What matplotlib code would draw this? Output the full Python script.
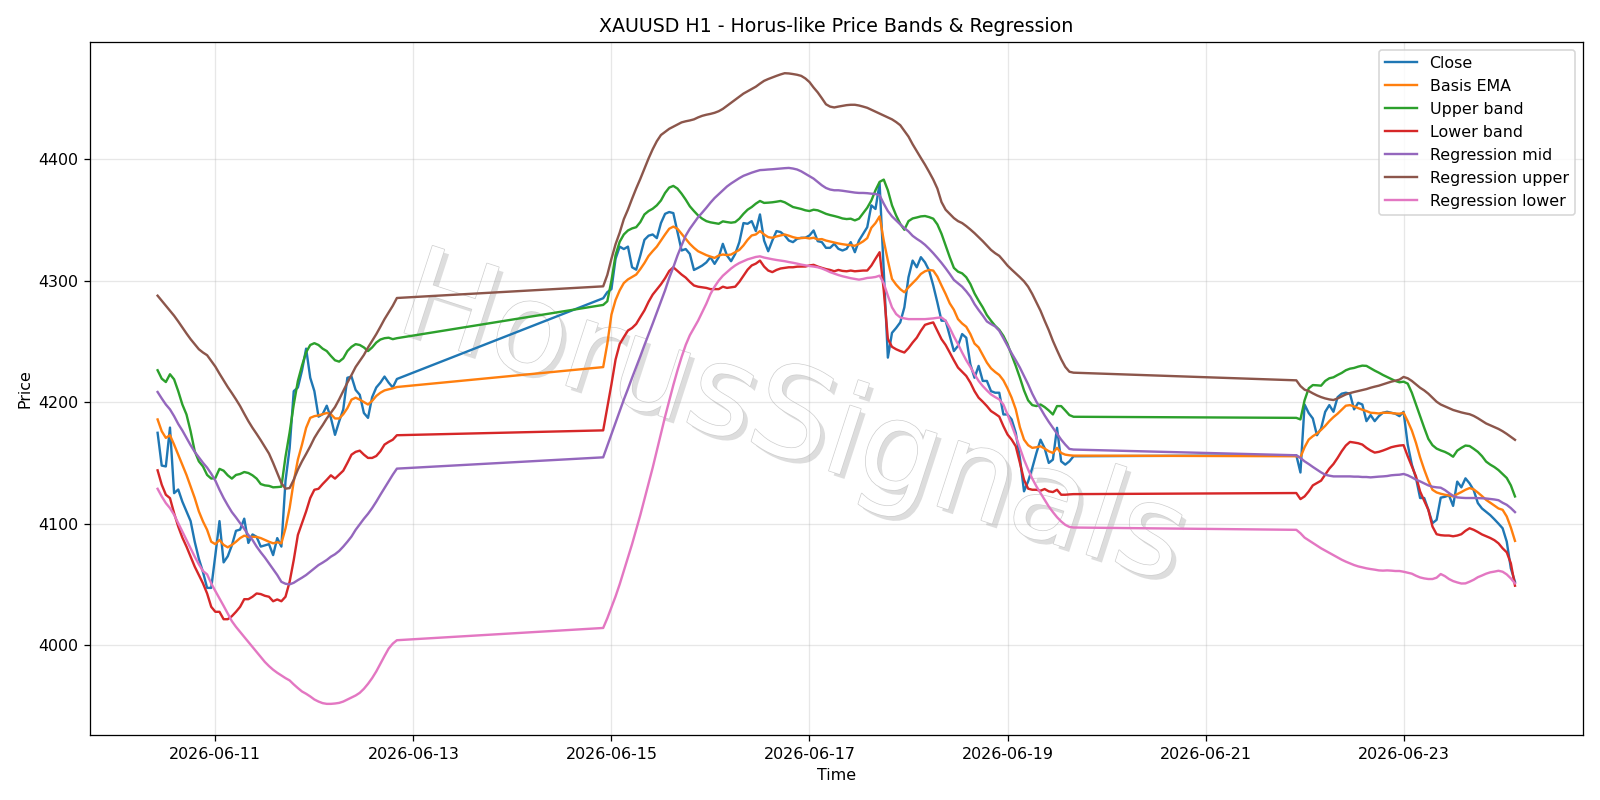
import numpy as np
import pandas as pd
import matplotlib
matplotlib.use("Agg")
import matplotlib.pyplot as plt
import matplotlib.patheffects as pe

# Sesiones horarias (huecos de fin de semana)
seg_starts = ["2026-06-10 10:00", "2026-06-14 22:00", "2026-06-21 22:00"]
seg_lengths = [59, 115, 54]

close = [
    # sesion 1
    4174.7, 4147.7, 4147, 4179, 4125, 4128, 4118, 4110, 4102, 4085, 4071, 4060, 4047, 4047, 4074, 4102,
    4068, 4073, 4082, 4094, 4095, 4104, 4084, 4091, 4089, 4081, 4082, 4083, 4074, 4088, 4081, 4135,
    4162, 4209, 4212, 4226, 4244, 4220, 4209, 4188, 4190, 4197, 4187, 4173, 4184, 4194, 4220, 4221,
    4210, 4206, 4191, 4187, 4204, 4212, 4216, 4221, 4216, 4212, 4219,
    # sesion 2
    4285.5, 4290.5, 4293, 4318, 4328, 4326, 4328, 4311, 4309, 4320.7, 4333.6, 4337, 4338, 4335, 4347.4,
    4355, 4356.5, 4355.6, 4340, 4324.8, 4326, 4322, 4308.8, 4310.5, 4312.4, 4315, 4319.3, 4313.8, 4319.3,
    4330.3, 4320.7, 4316, 4322, 4331.7, 4347.4, 4346.8, 4349, 4340.8, 4354.5, 4333, 4324.2, 4333, 4340.8,
    4340, 4337.2, 4333, 4331.7, 4334.4, 4335.3, 4335.3, 4337.2, 4341.3, 4332.5, 4331.7, 4327, 4327, 4330.3,
    4326.2, 4324.8, 4326.2, 4331.7, 4323.4, 4333, 4338.5, 4344, 4362, 4359, 4380, 4308, 4236.6, 4257,
    4261, 4265.6, 4278, 4302.8, 4316.5, 4311, 4319.3, 4315, 4308.3, 4296, 4282, 4267, 4267, 4254.5, 4242,
    4246.3, 4256, 4253, 4231, 4220, 4229.8, 4217.4, 4217.4, 4209, 4207.7, 4207.7, 4189.8, 4189.8, 4185.7,
    4174.7, 4154, 4126.5, 4134.7, 4145.7, 4158, 4169, 4162, 4149.9, 4152.6, 4178.8, 4151.2, 4148.5,
    4151.2, 4155.4,
    # sesion 3
    4156.2, 4142, 4198, 4191, 4186.5, 4172.7, 4178.2, 4192, 4197.5, 4192, 4204, 4206.9, 4207.7, 4206.9,
    4194, 4199.4, 4198, 4184.3, 4189.3, 4184.3, 4188.4, 4191.2, 4192, 4191.2, 4190.4, 4188.4, 4192, 4165,
    4148.5, 4137.5, 4121, 4121, 4111.3, 4100.3, 4103, 4121.3, 4122, 4123.2, 4114.5, 4134.5, 4129.8,
    4137.2, 4133, 4127.4, 4116.8, 4112.4, 4109.7, 4106.9, 4103.5, 4099.9, 4096.1, 4085.1, 4063, 4052,
]

basis_ema = [
    4185.7, 4176, 4170.5, 4172.7, 4165, 4156.7, 4148.5, 4140, 4130.6, 4121, 4110, 4101.7, 4094.8, 4085,
    4083, 4086.5, 4082.4, 4080.4, 4082.4, 4085, 4088, 4090, 4089, 4089, 4089, 4088, 4086.5, 4085, 4083.7,
    4084.6, 4083.7, 4096, 4112.7, 4134.7, 4152.6, 4165, 4178.8, 4187, 4188.4, 4189, 4190, 4191, 4190,
    4186.5, 4186.5, 4190, 4195, 4202, 4203.6, 4202, 4200, 4198, 4201, 4205, 4207.7, 4209.6, 4210.5,
    4211.3, 4212.4,
    4228.8, 4248, 4272, 4284, 4292, 4298, 4301, 4303, 4305, 4309.5, 4314.5, 4320.3, 4324.3, 4328, 4333,
    4338, 4342.7, 4344.5, 4342.7, 4338.6, 4334.4, 4330.3, 4327, 4324.2, 4322.6, 4321, 4319.8, 4318.7,
    4320.7, 4321.5, 4321, 4321.5, 4323.4, 4325.3, 4329, 4333.6, 4337.2, 4338, 4340.8, 4338, 4335.8,
    4335.3, 4336.4, 4337.2, 4338, 4337, 4335.8, 4335, 4335, 4335.3, 4334.7, 4335.3, 4333.9, 4334.2, 4333,
    4332.2, 4331.4, 4330.6, 4330, 4329.5, 4329.2, 4328.7, 4330.3, 4332.3, 4335, 4343.5, 4347.4, 4352.9,
    4333, 4316.5, 4301.4, 4296.7, 4293, 4290.4, 4294.5, 4298, 4301.4, 4305.5, 4307.7, 4308.8, 4308.3,
    4303.3, 4296, 4289, 4281.3, 4276, 4268.3, 4264.7, 4262, 4256, 4248.2, 4245, 4238.8, 4232.5, 4227.8,
    4224.8, 4222.3, 4217.9, 4211.3, 4203.6, 4194, 4179.3, 4169.1, 4164.5, 4162.3, 4162.8, 4163.6, 4161.7,
    4159.5, 4158.1, 4162.3, 4158.1, 4156.7, 4156.2, 4155.9,
    4155.4, 4154.5, 4162.8, 4169.1, 4171.9, 4174.1, 4177.1, 4180.4, 4184.3, 4187.6, 4190.4, 4193.7, 4197,
    4197.5, 4196.4, 4195, 4193.7, 4192.6, 4191.2, 4191, 4190.6, 4191.2, 4191.2, 4191, 4190.6, 4190.4,
    4191.2, 4184.3, 4176.6, 4166.4, 4154.5, 4144.4, 4135.3, 4127.8, 4125.6, 4124.5, 4123.7, 4123.1,
    4122.3, 4124.2, 4125.9, 4127.8, 4129.2, 4128.1, 4125.5, 4122.6, 4119.5, 4117.2, 4114.8, 4112.4,
    4111.3, 4105.8, 4096.7, 4085.7,
]

upper_band = [
    4226.2, 4219.3, 4216.5, 4222.9, 4218.7, 4209, 4198, 4189.8, 4176, 4159.5, 4151.2, 4147, 4140, 4137,
    4137.5, 4145, 4143.5, 4139.7, 4137, 4140, 4140.8, 4142.4, 4141.6, 4139.7, 4137, 4132.5, 4131.4, 4131,
    4129.8, 4130, 4130.3, 4155, 4175, 4198, 4217.4, 4230, 4241, 4247, 4248.5, 4247, 4244, 4242, 4238,
    4234.4, 4233.3, 4236, 4242, 4245.5, 4247.7, 4247, 4245, 4242, 4245, 4249, 4251.5, 4252.6, 4253,
    4251.8, 4252.6,
    4280, 4283, 4300, 4321, 4332, 4338, 4341.3, 4343, 4344, 4348.2, 4354.5, 4357.3, 4359.2, 4362, 4366,
    4372.2, 4376.6, 4378, 4375.8, 4371.6, 4366.7, 4361.2, 4357.3, 4353.7, 4351, 4349, 4348, 4347.4,
    4346.8, 4348.8, 4348.2, 4347.7, 4348.2, 4351, 4355, 4358.4, 4360.6, 4363.4, 4365.6, 4364, 4364.2,
    4364.5, 4365, 4365.6, 4364.5, 4362.5, 4360.6, 4359.8, 4359, 4357.9, 4357.3, 4358.4, 4357.9, 4356.5,
    4355, 4354, 4353.2, 4352.3, 4351.2, 4350.7, 4351, 4349.6, 4351, 4355.5, 4360, 4366, 4374.4, 4381.3,
    4383.2, 4374.4, 4362, 4353.7, 4346.8, 4341.9, 4349, 4351.2, 4352, 4352.9, 4353.2, 4352.3, 4351,
    4346.3, 4338.6, 4328.9, 4319.3, 4310.5, 4307.4, 4306, 4302.8, 4297.2, 4289.5, 4283.5, 4278, 4271.6,
    4267, 4262.8, 4259.5, 4254.5, 4247.7, 4238.8, 4229.8, 4220.1, 4209.6, 4201.4, 4197.5, 4196.7, 4198,
    4195.9, 4193.1, 4189.8, 4196.7, 4196.7, 4193.1, 4189.3, 4187.9,
    4187, 4185.7, 4201.4, 4211.3, 4214, 4213.8, 4213.5, 4217.4, 4219.6, 4220.4, 4222.3, 4224, 4226.2,
    4227.5, 4228.1, 4229.2, 4230, 4229.8, 4227.8, 4225.9, 4224.2, 4222.3, 4220.7, 4219, 4217.4, 4216.3,
    4216.8, 4215.2, 4207.7, 4198, 4188.4, 4178.8, 4169.7, 4164.5, 4161.7, 4160.2, 4159, 4157.3, 4155,
    4160, 4162.3, 4164.2, 4163.8, 4161.5, 4159, 4155.5, 4151, 4148.5, 4146.5, 4144, 4140.8, 4137.5,
    4131.4, 4122.3,
]

lower_band = [
    4143.8, 4132, 4123.7, 4120.9, 4108.5, 4097.5, 4088.4, 4081, 4072.7, 4064.5, 4057.6, 4050.7, 4042.4,
    4031.4, 4027.3, 4027.3, 4021.2, 4021.2, 4023.7, 4027.3, 4031.4, 4037.7, 4037.7, 4039.7, 4042.4,
    4041.9, 4040.5, 4039.7, 4036, 4037.5, 4036, 4039.7, 4052, 4070, 4090.6, 4100.3, 4110, 4121, 4127.8,
    4128.6, 4132.5, 4136, 4139.7, 4137, 4140.2, 4143.5, 4149.9, 4156.7, 4159, 4160, 4156.7, 4154, 4154,
    4155.6, 4159.5, 4165, 4167.2, 4169, 4172.7,
    4176.7, 4195.6, 4214.6, 4235, 4247.8, 4253.5, 4258.9, 4261, 4264.3, 4270, 4275.5, 4282.6, 4288.5,
    4292.7, 4297, 4302, 4307.9, 4311, 4308, 4305, 4302.5, 4299, 4296, 4295, 4294.5, 4294, 4293, 4293,
    4293, 4295, 4294, 4294.5, 4295, 4299, 4304, 4309, 4312.5, 4314, 4316.5, 4311.6, 4308.3, 4307,
    4308.8, 4310, 4310.5, 4311, 4311, 4311.5, 4311.6, 4311.6, 4312.5, 4313, 4311.6, 4310.5, 4309.5,
    4308.8, 4307.7, 4308.8, 4308, 4307.7, 4308.3, 4307.7, 4308, 4308.3, 4308.3, 4312.4, 4318, 4323.4,
    4292, 4252, 4245.5, 4243.5, 4242, 4240.8, 4244.4, 4249, 4253, 4258.7, 4263.6, 4264.7, 4265.6,
    4258.7, 4251.8, 4247, 4240.8, 4234.4, 4228.4, 4225, 4221.5, 4216, 4209, 4203.6, 4200.3, 4196.7,
    4192.6, 4190.4, 4188, 4180.2, 4173.3, 4169.1, 4163.6, 4150, 4136, 4128.7, 4127.8, 4127.8, 4127,
    4128.4, 4126.5, 4125.9, 4127.8, 4123.7, 4123.7, 4124, 4124.2,
    4125.1, 4120.1, 4122.3, 4126.4, 4131.4, 4133.3, 4135.3, 4140.2, 4145.2, 4149, 4154, 4159.5, 4164.2,
    4167.2, 4166.7, 4166.1, 4165, 4162.3, 4160.1, 4158.4, 4159, 4160.1, 4161.4, 4162.8, 4163.6, 4164.2,
    4164.5, 4155.4, 4147.1, 4138.8, 4126.4, 4118.7, 4111.3, 4097.5, 4091.2, 4090.4, 4090.1, 4090.1,
    4089.5, 4090.1, 4091.2, 4094, 4096.1, 4094.8, 4093, 4091, 4089.5, 4088.1, 4086.3, 4083.7, 4079.6,
    4076.3, 4067.2, 4048.8,
]

reg_mid = [
    4208.3, 4203, 4198, 4194, 4188.4, 4182, 4176.6, 4170.5, 4164.5, 4159, 4154.5, 4150, 4146, 4141,
    4135.3, 4127.8, 4121, 4115, 4109.4, 4105, 4100.3, 4095.6, 4090.6, 4086.5, 4081, 4076.3, 4072,
    4067.2, 4062.5, 4057.6, 4052, 4050.4, 4049.9, 4051.2, 4053.4, 4055.4, 4057.6, 4060.3, 4063, 4065.8,
    4067.8, 4070, 4072.7, 4074.7, 4077.4, 4081, 4085, 4089.3, 4094.8, 4099.4, 4103.9, 4108, 4112.7,
    4118, 4123.7, 4129.2, 4134.7, 4140.2, 4145.2,
    4154.5, 4164, 4173.5, 4183, 4192.5, 4202, 4210.8, 4220, 4228.8, 4237.7, 4246.9, 4255.7, 4264.6,
    4273.8, 4283.2, 4292, 4302.2, 4311, 4320.6, 4329, 4337, 4342.7, 4347.4, 4352.2, 4356, 4360, 4364.2,
    4368, 4371.2, 4374.3, 4377.5, 4380, 4382.2, 4384.4, 4386.3, 4387.6, 4388.9, 4390, 4391, 4391.2,
    4391.5, 4391.7, 4392, 4392.3, 4392.6, 4392.8, 4392.3, 4391.5, 4390, 4388, 4386, 4384, 4381.3,
    4378.5, 4376.3, 4375, 4374.4, 4374.4, 4374, 4373.5, 4373, 4372.5, 4372.2, 4372.2, 4372, 4371.6,
    4371.4, 4370.2, 4363.4, 4357.3, 4352.9, 4349.6, 4346.3, 4343.3, 4340.5, 4336.9, 4334.4, 4332.2,
    4329.5, 4326.2, 4322.6, 4318.7, 4314.6, 4310.2, 4305.5, 4300.6, 4297.8, 4295, 4291.2, 4286.8,
    4280.7, 4275.8, 4271.3, 4266.4, 4264.2, 4262.3, 4258.7, 4252.6, 4246.3, 4240.2, 4234.4, 4228.4,
    4221.5, 4214.6, 4206.9, 4200.3, 4194.8, 4189, 4183.7, 4178.8, 4173.8, 4169.1, 4165, 4161.4, 4160.9,
    4156.2, 4154, 4151.2, 4149, 4146.6, 4144.4, 4142.1, 4140.2, 4139.4, 4138.8, 4138.8, 4138.8, 4138.8,
    4138.8, 4138.6, 4138.6, 4138.3, 4138.3, 4138, 4138.3, 4138.6, 4138.8, 4139.1, 4139.7, 4140, 4140.2,
    4140.8, 4139.7, 4138, 4136.1, 4134.7, 4133.1, 4131.4, 4130.3, 4129.8, 4129.5, 4127.6, 4125.1,
    4122.8, 4121.5, 4121.2, 4121, 4121, 4121, 4120.9, 4120.8, 4120.6, 4120.2, 4119.8, 4119.2, 4117.1,
    4115.4, 4112.7, 4109.4,
]

reg_upper = [
    4287.6, 4283.5, 4279.3, 4275.2, 4271.1, 4266.4, 4261.4, 4256.5, 4251.8, 4247.7, 4243.5, 4240.8,
    4238.6, 4233.9, 4229.2, 4223.4, 4217.9, 4212.4, 4207.4, 4202.2, 4196.7, 4190.4, 4184.3, 4178.8,
    4173.8, 4168.6, 4163.1, 4157.6, 4149.9, 4141.6, 4133.3, 4128.7, 4129.2, 4136.1, 4144.4, 4151.2,
    4157.3, 4163.6, 4170.5, 4176, 4181, 4186.5, 4191.2, 4195.9, 4202.2, 4209.1, 4216, 4222.3, 4228.9,
    4233.9, 4238.8, 4244.9, 4250.4, 4255.9, 4262, 4268.3, 4273.8, 4279.3, 4285.7,
    4295.3, 4304.7, 4318, 4330, 4339.5, 4350.6, 4358.5, 4367.4, 4375.9, 4383.8, 4392.3, 4400.6, 4408.2,
    4414.8, 4419.9, 4422.4, 4425, 4426.8, 4428.7, 4430.3, 4431.2, 4431.9, 4432.8, 4434.4, 4435.7,
    4436.6, 4437.3, 4438.2, 4439.5, 4441.4, 4443.9, 4446.4, 4448.9, 4451.5, 4454, 4455.9, 4457.8,
    4459.7, 4462.2, 4464.5, 4466, 4467.3, 4468.6, 4469.8, 4470.8, 4470.6, 4470.1, 4469.5, 4468.6,
    4466.5, 4463.5, 4459, 4455, 4450.2, 4445.2, 4443.3, 4442.6, 4443.3, 4443.9, 4444.5, 4444.8, 4444.8,
    4444.2, 4443.3, 4442.3, 4440.7, 4439.2, 4437.6, 4436, 4434.4, 4432.8, 4430.6, 4428, 4423.3, 4418.6,
    4412.3, 4406.6, 4401, 4395.5, 4389.5, 4383.2, 4375.8, 4364.7, 4358.4, 4355, 4351.5, 4349, 4347.4,
    4344.9, 4342.1, 4339.1, 4335.8, 4332.5, 4328.9, 4325.3, 4322.6, 4320.4, 4316.5, 4312.4, 4309.1,
    4306, 4302.8, 4299.4, 4295, 4289, 4282, 4275.2, 4267, 4259.2, 4250.4, 4242.7, 4235.3, 4229, 4225,
    4224.2,
    4217.9, 4213.2, 4210.2, 4209.1, 4207.2, 4205.5, 4204.1, 4203, 4202.2, 4201.7, 4203, 4204.7, 4206.3,
    4207.4, 4208.3, 4209.1, 4209.9, 4210.7, 4211.8, 4212.7, 4213.5, 4214.6, 4215.7, 4216.8, 4217.6,
    4218.5, 4220.7, 4219.6, 4217.4, 4214.6, 4211.8, 4209.6, 4206.9, 4203.6, 4200.3, 4198, 4196.5, 4195,
    4193.5, 4192.5, 4191.5, 4190.7, 4190, 4188.6, 4186.7, 4184.5, 4182.4, 4180.9, 4179.5, 4177.9, 4176,
    4173.8, 4171.3, 4168.9,
]

reg_lower = [
    4128.6, 4122.3, 4116.8, 4112.7, 4107.2, 4100.3, 4093.4, 4086.5, 4079.6, 4072.7, 4066.4, 4060.9,
    4058.1, 4050.7, 4044.4, 4038.3, 4032.2, 4025.9, 4019.6, 4014.9, 4010.7, 4006.6, 4002.5, 3998.3,
    3994.2, 3990.1, 3986, 3982.6, 3979.6, 3977.1, 3974.9, 3972.7, 3970.8, 3967.5, 3964.5, 3961.7,
    3959.8, 3957.6, 3955.1, 3953.4, 3952.1, 3951.5, 3951.5, 3951.8, 3952.3, 3953.4, 3955.1, 3956.7,
    3958.4, 3960.6, 3963.9, 3968, 3972.7, 3978.2, 3984.6, 3990.9, 3997, 4001.1, 4003.9,
    4014, 4022, 4031, 4040, 4050, 4061, 4072, 4083, 4095, 4107, 4120, 4133, 4146, 4160, 4174, 4188,
    4201, 4214, 4226, 4237, 4247, 4255, 4261, 4267, 4274, 4281, 4289, 4295, 4300, 4304, 4307, 4310,
    4312.5, 4314.5, 4316, 4317.5, 4318.5, 4319.5,
    4320, 4319, 4318.3, 4317.6, 4317, 4316.5, 4316, 4315.3, 4314.7, 4314, 4313.2, 4312.6, 4312, 4311.6,
    4311, 4310, 4308.6, 4307, 4305.8, 4304.6, 4303.6, 4302.8, 4302, 4301.4, 4300.8,
    4301.4, 4302.2, 4302.5, 4303, 4304.1, 4297.8, 4287.6, 4278, 4272.5, 4269.7, 4268.9, 4268.3, 4268.3,
    4268.3, 4268.3, 4268.3, 4268.6, 4268.9, 4269.4, 4269.7, 4267, 4261, 4254, 4247.7, 4240.8, 4234.4,
    4228.9, 4222.9, 4217.4, 4213.2, 4209.6, 4206.3, 4204.1, 4202.2, 4198, 4189.8, 4181, 4171.9, 4162.3,
    4152.6, 4144.4, 4137, 4130.6, 4125.1, 4119.6, 4114, 4109.4, 4105.2, 4101.7, 4098.9, 4097.2, 4096.7,
    4094.8, 4092, 4088.4, 4086.2, 4084, 4081.8, 4079.6, 4077.7, 4075.8, 4073.8, 4071.9, 4070.2, 4068.6,
    4067.2, 4065.8, 4064.7, 4063.9, 4063.1, 4062.5, 4062, 4061.4, 4061.2, 4061.4, 4061.2, 4060.9,
    4060.9, 4060.3, 4059.5, 4058.7, 4057, 4055.6, 4054.8, 4054.3, 4054.3, 4055.4, 4058.4, 4056.7,
    4054.3, 4052.6, 4051.5, 4050.6, 4050.7, 4052.1, 4053.7, 4055.8, 4057.2, 4058.7, 4059.8, 4060.4,
    4061.1, 4060.3, 4058.1, 4054.8, 4050.7,
]

# Eje de tiempo (velas H1)
time = pd.DatetimeIndex(np.concatenate([
    pd.date_range(s, periods=n, freq="h").values for s, n in zip(seg_starts, seg_lengths)
]))

series = [
    ("Close", close),
    ("Basis EMA", basis_ema),
    ("Upper band", upper_band),
    ("Lower band", lower_band),
    ("Regression mid", reg_mid),
    ("Regression upper", reg_upper),
    ("Regression lower", reg_lower),
]

DPI = 1600 / 14
fig, ax = plt.subplots(figsize=(14, 7), dpi=DPI)

for name, vals in series:
    ax.plot(time, vals, label=name, linewidth=1.5)

# Marca de agua
ax.text(0.495, 0.472, "HorusSignals", transform=fig.transFigure,
        fontsize=79, rotation=-18, ha="center", va="center",
        color="white", zorder=1,
        path_effects=[pe.SimplePatchShadow(offset=(3, -3), shadow_rgbFace="#a0a0a0", alpha=0.35),
                      pe.Stroke(linewidth=0.9, foreground="#cfcfcf"),
                      pe.Normal()])

ax.set_title("XAUUSD H1 - Horus-like Price Bands & Regression")
ax.set_xlabel("Time")
ax.set_ylabel("Price")
ax.grid(True, alpha=0.3)
ax.legend(loc="upper right")

plt.tight_layout()
plt.savefig("out.png", dpi=DPI)
